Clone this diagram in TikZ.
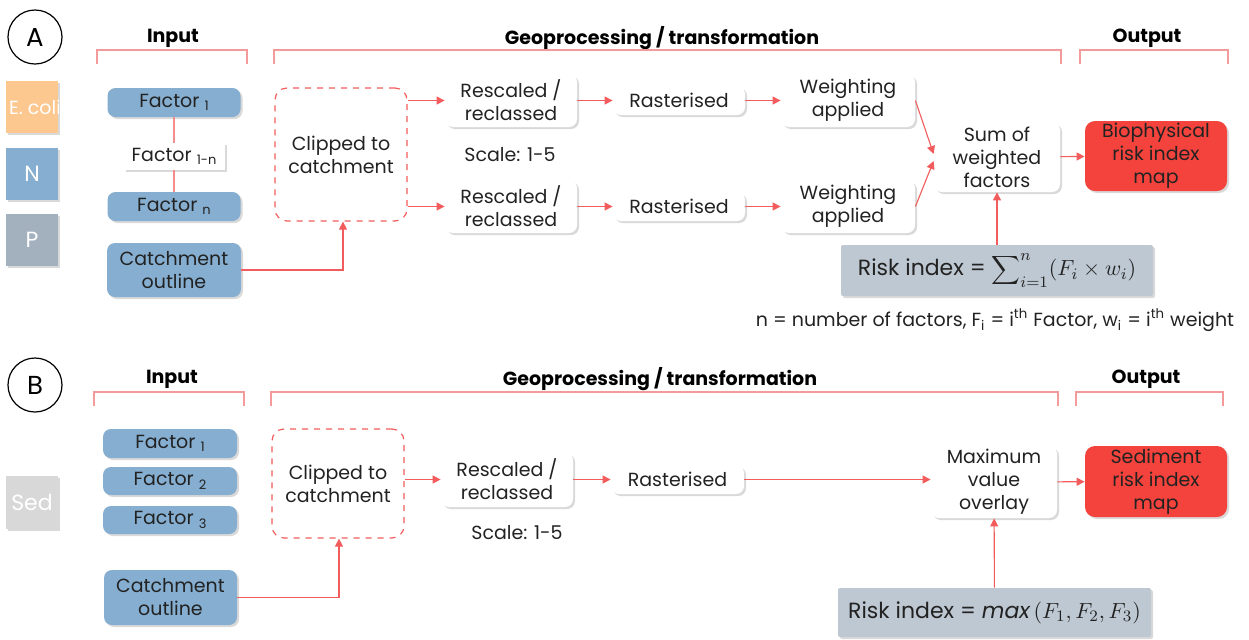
\documentclass[tikz,border=0pt]{standalone}
\usepackage{fontspec}
\setmainfont{Poppins}
\usetikzlibrary{shadows,arrows.meta}
\definecolor{myblue}{HTML}{85AED0}
\definecolor{myred}{HTML}{F4433C}
\definecolor{arrred}{HTML}{F25C5C}
\definecolor{brk}{HTML}{F39A9A}
\definecolor{formgrey}{HTML}{BEC8D2}
\definecolor{pgrey}{HTML}{A3B1BF}
\definecolor{ecoli}{HTML}{FCC890}
\definecolor{sedgrey}{HTML}{D8D8D8}
\definecolor{txt}{HTML}{222222}
\tikzset{
  base/.style={inner sep=0pt, align=center, text=txt, font=\fontsize{9.5}{11.5}\selectfont,
    drop shadow={shadow xshift=1pt, shadow yshift=-1pt, opacity=0.15, fill=black}},
  bluebox/.style={base, fill=myblue, rounded corners=4pt},
  whitebox/.style={base, fill=white, rounded corners=4pt},
  redbox/.style={base, fill=myred, rounded corners=5pt},
  formbox/.style={base, fill=formgrey, rounded corners=1pt, font=\fontsize{11}{13}\selectfont},
  clipbox/.style={inner sep=0pt, align=center, text=txt, font=\fontsize{9.5}{11.5}\selectfont,
    draw=arrred, dashed, line width=0.6pt, rounded corners=6pt, fill=white},
  sq/.style={base, text=white, font=\fontsize{11}{13}\selectfont, minimum width=26pt, minimum height=26pt},
  hdr/.style={font=\bfseries\fontsize{9.5}{11}\selectfont, text=black},
  lbl/.style={circle, draw=black, line width=0.6pt, minimum size=27pt, inner sep=0pt, font=\fontsize{13}{15}\selectfont},
  arr/.style={draw=arrred, line width=0.55pt, -{Triangle[length=4pt,width=4pt]}},
  lnk/.style={draw=arrred!70, line width=0.6pt},
  brkline/.style={draw=brk, line width=0.7pt},
  plain/.style={text=txt, font=\fontsize{9.5}{11.5}\selectfont},
}
\newcommand{\sub}[1]{\raisebox{-0.35ex}{\fontsize{6.5}{7}\selectfont #1}}
\begin{document}
\begin{tikzpicture}[x=0.5pt,y=-0.5pt]
\useasboundingbox (0,0) rectangle (1249,639);
% ---------------- Panel A ----------------
\node[lbl] (circA) at (35,37) {A};
\node[hdr] (inA) at (173,38) {Input};
\node[hdr] (geoA) at (662,38) {Geoprocessing / transformation};
\node[hdr] (outA) at (1147,38) {Output};
\coordinate (ia1) at (97,64); \coordinate (ia2) at (247,64);
\coordinate (ga1) at (274,64); \coordinate (ga2) at (1061,64);
\coordinate (oa1) at (1080,64); \coordinate (oa2) at (1228,64);
\draw[brkline] (ia1) -- ++(0,-14) -| (ia2);
\draw[brkline] (ga1) -- ++(0,-14) -| (ga2);
\draw[brkline] (oa1) -- ++(0,-14) -| (oa2);

\node[sq, fill=ecoli, path picture={\node[text=white, font=\fontsize{9.5}{11}\selectfont] at ([xshift=1.5pt]path picture bounding box.center) {E. coli};}] (sqE) at (32,107) {};
\node[sq, fill=myblue] (sqN) at (32,174) {N};
\node[sq, fill=pgrey] (sqP) at (32,240) {P};

\node[bluebox, minimum width=66.5pt, minimum height=14.5pt] (f1) at (174,102.5) {Factor \sub{1}};
\node[whitebox, rounded corners=0pt, minimum width=50.5pt, minimum height=13.5pt] (f1n) at (174,156.5) {Factor \sub{1-n}};
\node[bluebox, minimum width=66.5pt, minimum height=14.5pt] (fn) at (174,206.5) {Factor \sub{n}};
\draw[lnk] (f1) -- (f1n);
\draw[lnk] (f1n) -- (fn);
\node[bluebox, minimum width=67pt, minimum height=27pt] (catchA) at (174,270) {Catchment\\outline};

\node[clipbox, minimum width=66pt, minimum height=66.5pt] (clipA) at (341,154.5) {Clipped to\\catchment};
\node[whitebox, minimum width=66pt, minimum height=26.5pt] (resA1) at (511,100.5) {Rescaled /\\reclassed};
\node[whitebox, minimum width=66pt, minimum height=26.5pt] (resA2) at (511,206.5) {Rescaled /\\reclassed};
\node[plain] (scaleA) at (510,155) {Scale: 1-5};
\node[whitebox, minimum width=66pt, minimum height=14.5pt] (rasA1) at (679,100.5) {Rasterised};
\node[whitebox, minimum width=66pt, minimum height=14.5pt] (rasA2) at (679,206.5) {Rasterised};
\node[whitebox, minimum width=67pt, minimum height=26.5pt] (wtA1) at (848,100.5) {Weighting\\applied};
\node[whitebox, minimum width=67pt, minimum height=26.5pt] (wtA2) at (848,206.5) {Weighting\\applied};
\node[whitebox, minimum width=63pt, minimum height=35pt] (sumA) at (997,157) {Sum of\\weighted\\factors};
\node[redbox, minimum width=71pt, minimum height=35pt] (bioA) at (1156,156) {Biophysical\\risk index\\map};
\node[formbox, minimum width=156pt, minimum height=25.5pt] (formA) at (997,270.5) {Risk index = $\displaystyle\sum\nolimits_{i=1}^{n}(F_i\times w_i)$};
\node[plain] (noteA) at (995,320) {n = number of factors, F\textsubscript{i} = i\textsuperscript{th} Factor, w\textsubscript{i} = i\textsuperscript{th} weight};

\draw[arr] (catchA.east) -| ([xshift=1pt]clipA.south);
\draw[arr] (clipA.east |- resA1) -- (resA1);
\draw[arr] (clipA.east |- resA2) -- (resA2);
\draw[arr] (resA1) -- (rasA1);
\draw[arr] (resA2) -- (rasA2);
\draw[arr] (rasA1) -- (wtA1);
\draw[arr] (rasA2) -- (wtA2);
\draw[arr] (wtA1.east) -- ([yshift=1.5pt]sumA.west);
\draw[arr] (wtA2.east) -- ([yshift=-2pt]sumA.west);
\draw[arr] (sumA) -- (bioA);
\draw[arr] (formA) -- (sumA);

% ---------------- Panel B ----------------
\node[lbl] (circB) at (35,385) {B};
\node[hdr] (inB) at (172,379) {Input};
\node[hdr] (geoB) at (660,379) {Geoprocessing / transformation};
\node[hdr] (outB) at (1146,379) {Output};
\coordinate (ib1) at (94,406); \coordinate (ib2) at (244,406);
\coordinate (gb1) at (271,406); \coordinate (gb2) at (1058,406);
\coordinate (ob1) at (1076,406); \coordinate (ob2) at (1223,406);
\draw[brkline] (ib1) -- ++(0,-14) -| (ib2);
\draw[brkline] (gb1) -- ++(0,-14) -| (gb2);
\draw[brkline] (ob1) -- ++(0,-14) -| (ob2);

\node[sq, fill=sedgrey, minimum height=26.5pt] (sqS) at (32,502.5) {Sed};

\node[bluebox, minimum width=67pt, minimum height=14.5pt] (fb1) at (170,443.5) {Factor \sub{1}};
\node[bluebox, minimum width=67pt, minimum height=14pt] (fb2) at (170,481) {Factor \sub{2}};
\node[bluebox, minimum width=67pt, minimum height=14pt] (fb3) at (170,520) {Factor \sub{3}};
\node[bluebox, minimum width=66.5pt, minimum height=27.5pt] (catchB) at (170.5,597.5) {Catchment\\outline};

\node[clipbox, minimum width=66pt, minimum height=54.5pt] (clipB) at (338,483.5) {Clipped to\\catchment};
\node[whitebox, minimum width=66pt, minimum height=27.5pt] (resB) at (507,479.5) {Rescaled /\\reclassed};
\node[plain] (scaleB) at (517,533) {Scale: 1-5};
\node[whitebox, minimum width=66.5pt, minimum height=14.5pt] (rasB) at (677.5,479.5) {Rasterised};
\node[whitebox, minimum width=63pt, minimum height=36pt] (maxB) at (994,482) {Maximum\\value\\overlay};
\node[redbox, minimum width=71pt, minimum height=35.5pt] (sedB) at (1156,481.5) {Sediment\\risk index\\map};
\node[formbox, minimum width=156.5pt, minimum height=24.5pt] (formB) at (994.5,612.5) {Risk index = $\mathit{max}\,(F_1,F_2,F_3)$};

\draw[arr] (catchB.east) -| ([xshift=0.5pt]clipB.south);
\draw[arr] (clipB.east |- resB) -- (resB);
\draw[arr] (resB) -- (rasB);
\draw[arr] (rasB.east) -- (maxB.west |- rasB);
\draw[arr] (maxB) -- (sedB);
\draw[arr] (formB) -- (maxB);
\end{tikzpicture}
\end{document}
